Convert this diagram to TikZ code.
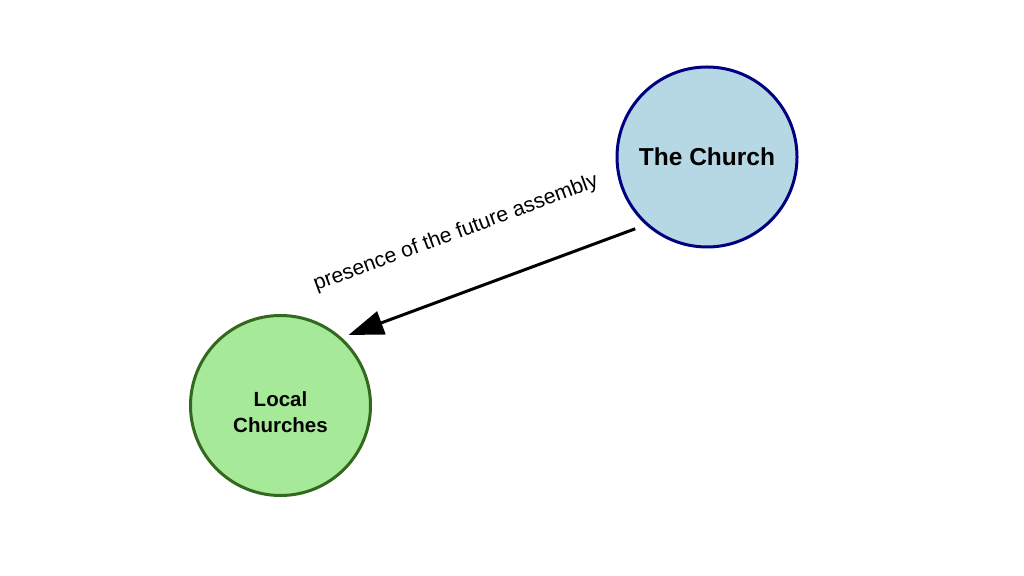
\documentclass[tikz,border=0pt]{standalone}
\usepackage{fontspec}
\setmainfont{Liberation Sans}
\usetikzlibrary{arrows.meta}
\definecolor{churchfill}{RGB}{182,216,228}
\definecolor{churchline}{RGB}{0,0,128}
\definecolor{localfill}{RGB}{166,233,152}
\definecolor{localline}{RGB}{50,105,30}
\tikzset{
  bubble/.style={circle, minimum size=180pt, inner sep=0pt, line width=3pt},
  churchnode/.style={bubble, draw=churchline, fill=churchfill, outer sep=11.5pt,
    font=\fontsize{24.5}{29}\selectfont\bfseries},
  localnode/.style={bubble, draw=localline, fill=localfill, outer sep=8pt},
  localtext/.style={align=center, font=\fontsize{20.5}{26}\selectfont\bfseries, yshift=-7pt},
  linkarrow/.style={line width=3pt, -{Triangle[length=35pt, width=24pt]}},
  edgelabel/.style={font=\fontsize{21.2}{25}\selectfont, inner sep=0pt}
}
\begin{document}
\begin{tikzpicture}[x=1pt, y=1pt]
\useasboundingbox (0,0) rectangle (1024,575);
\fill[white] (0,0) rectangle (1024,575);
\node[churchnode] (church) at (707,418) {The Church};
\node[localnode, label={[localtext]center:{Local\\Churches}}] (local) at (280.5,169.5) {};
\draw[linkarrow] (church.225) -- (local.46);
\node[edgelabel, rotate=20.3] (lab) at (456,341.5) {presence of the future assembly};
\end{tikzpicture}
\end{document}
